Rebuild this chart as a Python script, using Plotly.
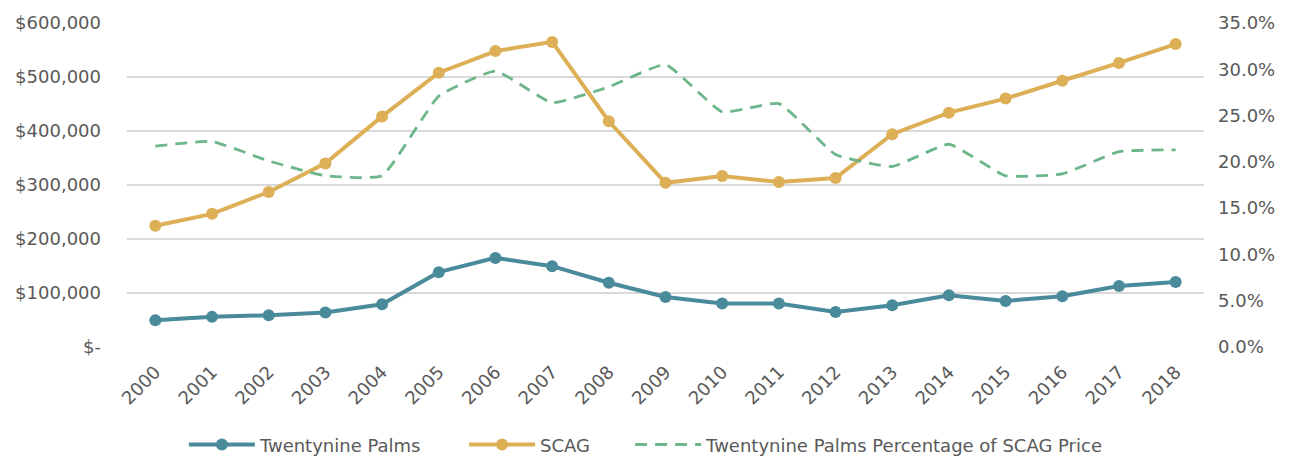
import plotly.graph_objects as go

years = [str(y) for y in range(2000, 2019)]
twentynine_palms = [49700, 55800, 58900, 63800, 79000, 138600, 165000, 149700, 119000,
                    92600, 80400, 80400, 65000, 77300, 95700, 85300, 93900, 112800, 120200]
scag = [224500, 246600, 287000, 340000, 427000, 508000, 548000, 565000, 418000,
        304000, 316600, 305500, 313000, 394000, 434000, 460000, 493000, 526000, 561000]
pct_of_scag = [21.7, 22.2, 20.1, 18.5, 18.5, 27.1, 29.8, 26.4, 28.1,
               30.5, 25.4, 26.3, 20.8, 19.5, 21.9, 18.5, 18.7, 21.1, 21.3]

left_ticks = [0, 100000, 200000, 300000, 400000, 500000, 600000]
left_labels = ["$-", "$100,000", "$200,000", "$300,000", "$400,000", "$500,000", "$600,000"]
right_ticks = [0, 5, 10, 15, 20, 25, 30, 35]
right_labels = ["0.0%", "5.0%", "10.0%", "15.0%", "20.0%", "25.0%", "30.0%", "35.0%"]

TEAL = "#4A8B9B"
GOLD = "#DDAF56"
GREEN = "#6DB68A"
TXT = "#595959"
FONT = "DejaVu Sans"
FS = 18

fig = go.Figure()
fig.add_trace(go.Scatter(x=years, y=twentynine_palms, name="Twentynine Palms",
                         mode="lines+markers", line=dict(color=TEAL, width=4),
                         marker=dict(size=12, color=TEAL), legend="legend"))
fig.add_trace(go.Scatter(x=years, y=scag, name="SCAG",
                         mode="lines+markers", line=dict(color=GOLD, width=4),
                         marker=dict(size=12, color=GOLD), legend="legend2"))
fig.add_trace(go.Scatter(x=years, y=pct_of_scag, name="Twentynine Palms Percentage of SCAG Price",
                         mode="lines", yaxis="y2", legend="legend3",
                         line=dict(color=GREEN, width=2.8, dash="12px,8px",
                                   shape="spline", smoothing=0.4)))

leg_common = dict(orientation="h", xref="container", yref="container",
                  y=0.033, yanchor="middle", xanchor="left",
                  font=dict(size=FS, color=TXT, family=FONT), itemwidth=66,
                  bgcolor="rgba(0,0,0,0)")

fig.update_layout(
    width=1296, height=460,
    margin=dict(l=127, r=92, t=21, b=113),
    paper_bgcolor="white", plot_bgcolor="white",
    font=dict(family=FONT, size=FS, color=TXT),
    showlegend=True,
    legend=dict(x=0.1419, **leg_common),
    legend2=dict(x=0.3581, **leg_common),
    legend3=dict(x=0.4862, **leg_common),
    xaxis=dict(type="category", range=[-0.5, 18.5], tickangle=-45, showgrid=False,
               showline=False, ticks="", tickfont=dict(size=FS, color=TXT), zeroline=False,
               ticklabelstandoff=10),
    yaxis=dict(range=[0, 600000], tickvals=left_ticks, ticktext=left_labels,
               showgrid=True, gridcolor="#D9D9D9", gridwidth=1.5, zeroline=False,
               ticklabelstandoff=25, tickfont=dict(size=FS, color=TXT)),
    yaxis2=dict(range=[0, 35], tickvals=right_ticks, ticktext=right_labels,
                overlaying="y", side="right", showgrid=False, zeroline=False,
                ticklabelstandoff=13, tickfont=dict(size=FS, color=TXT)),
)

fig.write_html("out.html", config={"displayModeBar": False},
               post_script="document.body.style.margin='0';document.body.style.overflow='hidden';")
